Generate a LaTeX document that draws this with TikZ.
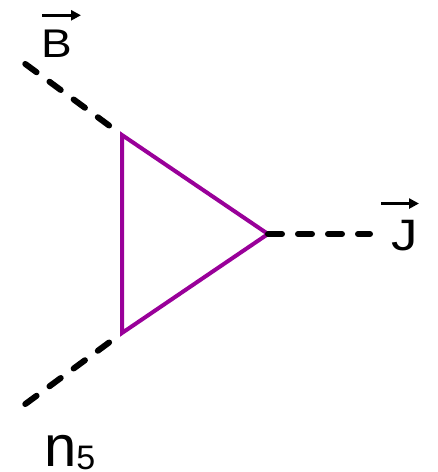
\documentclass[tikz,border=0pt]{standalone}
\usepackage{fontspec}
\setmainfont{Liberation Sans}
\usepackage{xcolor}
\definecolor{loopviolet}{RGB}{153,0,153}
\usetikzlibrary{arrows.meta}
\tikzset{
  loopline/.style={draw=loopviolet, line width=4pt, line join=miter},
  scalarline/.style={line width=6pt, line cap=round, dash pattern=on 14pt off 16pt},
  vecarrow/.style={-{Triangle[length=10pt, width=10pt]}, line width=3.5pt},
}

\begin{document}
\begin{tikzpicture}[
  x=1pt, y=-1pt,
  lbl/.style={inner sep=0pt, anchor=base west}
]
  \useasboundingbox (0,0) rectangle (438,472);

  % Triangle loop
  \coordinate (top) at (122,135);
  \coordinate (bot) at (122,333);
  \coordinate (tip) at (268,234);
  \draw[loopline] (top) -- (tip) -- (bot) -- cycle;

  % External legs
  \coordinate (Bend) at (24,63);
  \coordinate (nend) at (24,405);
  \coordinate (Jend) at (370,234);
  \draw[scalarline, dash phase=14pt] (top) -- (Bend);
  \draw[scalarline, dash phase=14pt] (bot) -- (nend);
  \draw[scalarline] (tip) -- (Jend);

  % Labels
  \node[lbl, xscale=1.15, font=\fontsize{40}{40}\selectfont] (B) at (41,57) {B};
  \draw[vecarrow] ([xshift=1pt, yshift=14pt]B.north west) -- ++(39,0);
  \node[lbl, xscale=1.2, font=\fontsize{44}{44}\selectfont] (J) at (391,250) {J};
  \draw[vecarrow] ([xshift=-10pt, yshift=16pt]J.north west) -- ++(38,0);
  \node[lbl, text depth=0pt] (n) at (44,466) {\fontsize{58}{58}\selectfont n\raisebox{-3pt}{\fontsize{34}{34}\selectfont 5}};
\end{tikzpicture}
\end{document}
